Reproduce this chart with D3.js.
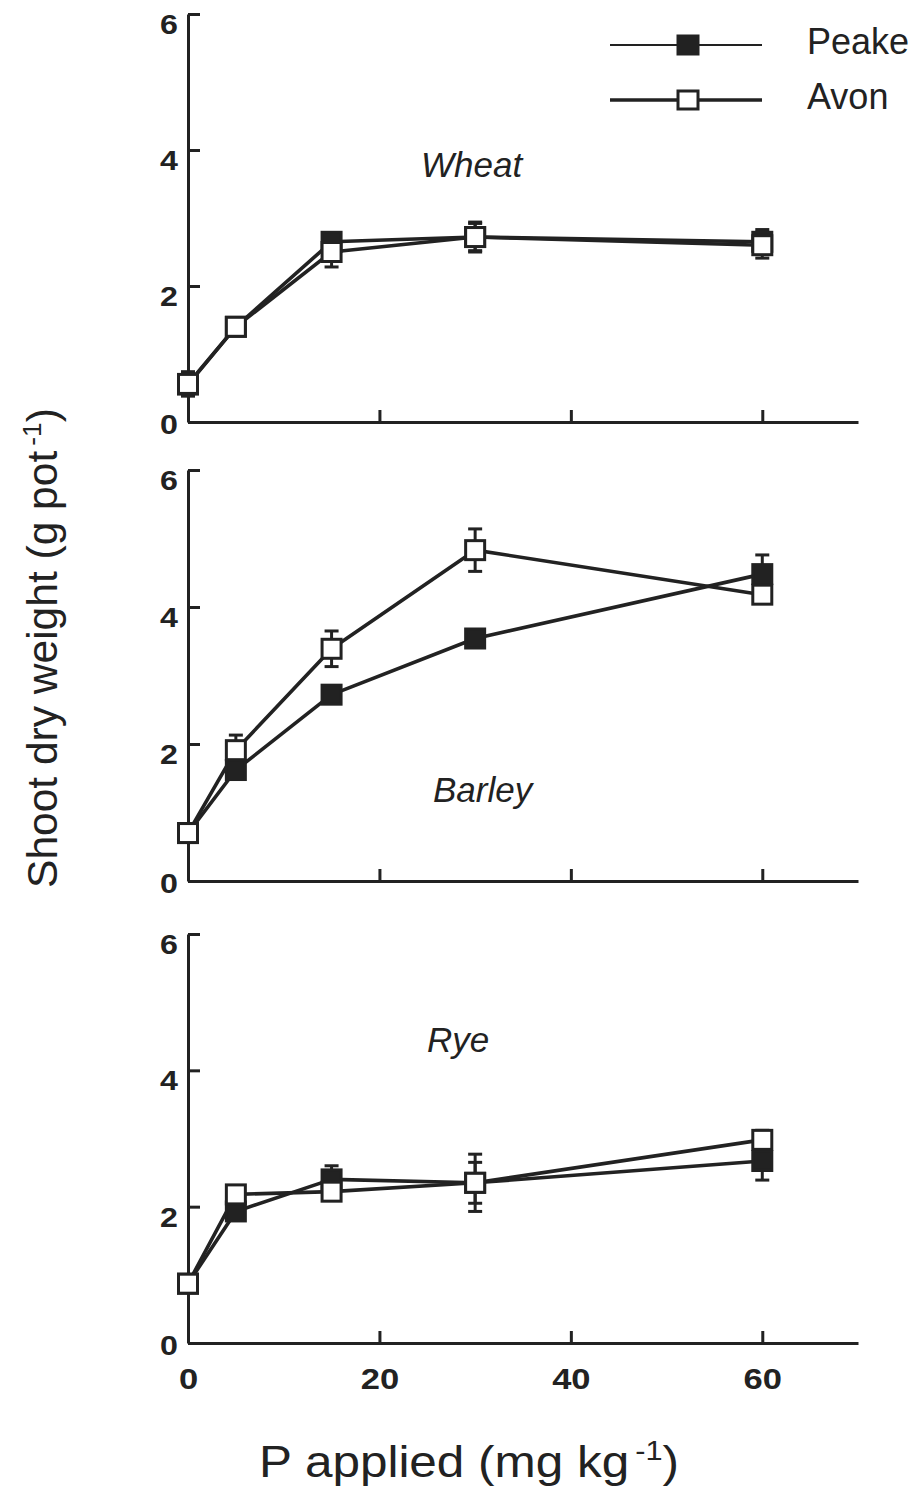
<!DOCTYPE html>
<html>
<head>
<meta charset="utf-8">
<script src="https://cdn.jsdelivr.net/npm/d3@7"></script>
<style>
  html, body { margin: 0; padding: 0; background: #ffffff; }
  svg { display: block; }
</style>
</head>
<body>
<script>
// ---------------- data ----------------
const pApplied = [0, 5, 15, 30, 60];
const crops = ["Wheat", "Barley", "Rye"];
const seriesNames = ["Peake", "Avon"];
const xTicks = [0, 20, 40, 60];
const yTicks = [0, 2, 4, 6];

const wheatPeake   = [0.55, 1.40, 2.65, 2.72, 2.65];
const wheatAvon    = [0.56, 1.40, 2.50, 2.72, 2.60];
const wheatPeakeSE = [0.12, 0.05, 0.12, 0.20, 0.18];
const wheatAvonSE  = [0.18, 0.05, 0.22, 0.22, 0.19];

const barleyPeake   = [0.70, 1.62, 2.72, 3.54, 4.48];
const barleyAvon    = [0.70, 1.91, 3.39, 4.83, 4.18];
const barleyPeakeSE = [0.05, 0.10, 0.10, 0.10, 0.28];
const barleyAvonSE  = [0.05, 0.22, 0.26, 0.31, 0.10];

const ryePeake   = [0.87, 1.93, 2.40, 2.35, 2.67];
const ryeAvon    = [0.87, 2.18, 2.22, 2.35, 2.98];
const ryePeakeSE = [0.10, 0.10, 0.20, 0.30, 0.28];
const ryeAvonSE  = [0.10, 0.05, 0.10, 0.42, 0.14];

const yLabel = "Shoot dry weight (g pot";
const xLabel = "P applied (mg kg";
const unitSup = "-1";

// --------------- layout ---------------
const W = 918, H = 1493;
const INK = "#222";
const FONT = "'Liberation Sans', Arial, Helvetica, sans-serif";

const panelData = [
  { name: crops[0], peake: wheatPeake, avon: wheatAvon, peakeSE: wheatPeakeSE, avonSE: wheatAvonSE },
  { name: crops[1], peake: barleyPeake, avon: barleyAvon, peakeSE: barleyPeakeSE, avonSE: barleyAvonSE },
  { name: crops[2], peake: ryePeake, avon: ryeAvon, peakeSE: ryePeakeSE, avonSE: ryeAvonSE }
];
const panelRanges = [[422, 14], [881, 470], [1343, 934]];
const cropLabelPos = [[421, 177], [433, 802], [427, 1052]];

const svg = d3.select("body").append("svg")
  .attr("width", W).attr("height", H)
  .attr("font-family", FONT);

const x = d3.scaleLinear().domain([0, 70]).range([188, 858]);
const tickScaleX = 1.15;

panelData.forEach((p, i) => {
  const y = d3.scaleLinear().domain([0, 6]).range(panelRanges[i]);
  const g = svg.append("g");
  const last = i === panelData.length - 1;

  // x axis
  const xa = g.append("g")
    .attr("transform", `translate(0,${y(0)})`)
    .call(d3.axisBottom(x).tickValues(xTicks).tickSizeInner(-12).tickSizeOuter(0)
      .tickPadding(25).tickFormat(last ? d3.format("d") : () => ""));
  // y axis
  const ya = g.append("g")
    .attr("transform", `translate(${x(0)},0)`)
    .call(d3.axisLeft(y).tickValues(yTicks).tickSizeInner(-12).tickSizeOuter(0)
      .tickPadding(10).tickFormat(d3.format("d")));

  [xa, ya].forEach(a => {
    a.select(".domain").attr("stroke", INK).attr("stroke-width", 3);
    a.selectAll(".tick line").attr("stroke", INK).attr("stroke-width", 3);
    a.selectAll(".tick text").attr("fill", INK).attr("font-family", FONT)
      .attr("font-weight", "bold")
      .attr("transform", `scale(${tickScaleX},1)`);
  });
  xa.selectAll(".tick text").attr("font-size", 30);
  ya.selectAll(".tick text").attr("font-size", 28)
    .attr("x", -10 / tickScaleX)
    .attr("dy", d => d === 0 ? "0.4em" : "0.7em");

  // lines
  const line = d3.line().x((d, j) => x(pApplied[j])).y(d => y(d));
  [p.peake, p.avon].forEach(vals => {
    g.append("path").datum(vals)
      .attr("d", line)
      .attr("fill", "none")
      .attr("stroke", INK)
      .attr("stroke-width", 3.6)
      .attr("stroke-linejoin", "round");
  });

  // error bars
  [[p.peake, p.peakeSE], [p.avon, p.avonSE]].forEach(([vals, se]) => {
    const eb = g.append("g").attr("stroke", INK).attr("stroke-width", 3);
    vals.forEach((v, j) => {
      const cx = x(pApplied[j]);
      eb.append("line").attr("x1", cx).attr("x2", cx)
        .attr("y1", y(v - se[j])).attr("y2", y(v + se[j]));
      [v - se[j], v + se[j]].forEach(e => {
        eb.append("line").attr("x1", cx - 7).attr("x2", cx + 7)
          .attr("y1", y(e)).attr("y2", y(e));
      });
    });
  });

  // markers
  const ms = 19;
  [[p.peake, INK], [p.avon, "#fff"]].forEach(([vals, fill]) => {
    g.append("g").selectAll("rect").data(vals).join("rect")
      .attr("x", (d, j) => x(pApplied[j]) - ms / 2)
      .attr("y", d => y(d) - ms / 2)
      .attr("width", ms).attr("height", ms)
      .attr("fill", fill)
      .attr("stroke", INK)
      .attr("stroke-width", 3);
  });

  // crop label
  g.append("text")
    .attr("x", cropLabelPos[i][0]).attr("y", cropLabelPos[i][1])
    .attr("font-size", 35).attr("font-style", "italic")
    .attr("fill", INK)
    .text(p.name);
});

// --------------- legend ---------------
const legend = svg.append("g");
const legY = [45, 100];
const legW = [2.2, 3.4];
seriesNames.forEach((name, k) => {
  legend.append("line")
    .attr("x1", 610).attr("x2", 762)
    .attr("y1", legY[k]).attr("y2", legY[k])
    .attr("stroke", INK).attr("stroke-width", legW[k]);
  legend.append("rect")
    .attr("x", 688 - 10).attr("y", legY[k] - 9)
    .attr("width", 20).attr("height", 18)
    .attr("fill", k === 0 ? INK : "#fff")
    .attr("stroke", INK).attr("stroke-width", 3);
  legend.append("text")
    .attr("x", 807).attr("y", legY[k] + 9)
    .attr("font-size", 36).attr("fill", INK)
    .text(name);
});

// --------------- axis titles ---------------
function titleWithSup(sel, main, size) {
  sel.attr("font-size", size).attr("fill", INK).attr("text-anchor", "middle");
  sel.append("tspan").text(main);
  sel.append("tspan").attr("dx", size * 0.12).attr("dy", -size * 0.38)
    .attr("font-size", size * 0.62).text(unitSup);
  sel.append("tspan").attr("dy", size * 0.38).text(")");
}

const xt = svg.append("text");
titleWithSup(xt, xLabel, 44);
{
  const w = xt.node().getBBox().width;
  const sx = 420 / w;
  xt.attr("transform", `translate(469,1477) scale(${sx},1)`);
}

const yt = svg.append("text");
titleWithSup(yt, yLabel, 43);
{
  const w = yt.node().getBBox().width;
  const sx = 480 / w;
  yt.attr("transform", `translate(57,648) rotate(-90) scale(${sx},1)`);
}
</script>
</body>
</html>
